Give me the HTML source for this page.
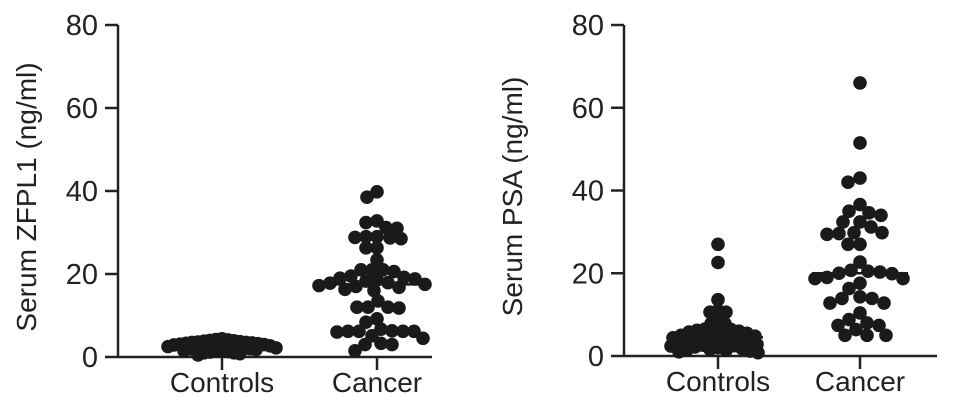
<!DOCTYPE html>
<html><head><meta charset="utf-8"><style>
html,body{margin:0;padding:0;background:#fff;}
svg{display:block;}
text{font-family:"Liberation Sans",Arial,sans-serif;fill:#222;}
</style></head><body>
<svg id="chart" width="969" height="415" viewBox="0 0 969 415" xmlns="http://www.w3.org/2000/svg"></svg>
<script>
const yTicks = [0, 20, 40, 60, 80];
const categories = ["Controls", "Cancer"];
const zfplControls = [0.5,0.8,1,1.2,1.4,1.5,1.6,1.8,2,2,2.1,2.2,2.3,2.4,2.5,2.5,2.6,2.7,2.8,2.9,3,3,3.1,3.2,3.3,3.4,3.5,3.5,3.6,3.7,3.8,4,4.1,4.2,4.4,1,1.3,2.2,2.7,3.9];
const zfplCancer = [39.8,38.5,32.8,32.4,31,31.2,28.8,29,28.7,28.5,29,26.3,26.3,23.4,21,21,20.6,21,19.5,19.2,18.8,18.3,17.9,17.5,17.2,18.6,19,17.8,16.3,16.8,16,17,12,12,11.8,12,13.5,9.2,6.3,6.2,6.2,6.2,6.7,6.2,8.4,5.1,6,3,3.3,3,1.5,4.5];
const zfplMedians = [2.4, 17.5];
const psaControls = [27,22.6,13.6,11,10.6,10.6,9,7.8,7.8,6.8,6.5,6.2,6,5.8,5.5,5.3,5,4.8,4.6,4.4,4.2,4,3.8,3.6,3.4,3.2,3,2.8,2.6,2.4,2.2,2,1.8,1.6,1.4,1.2,1,1.5,2.5,3.5,4.5,5.5,6.4,0.8];
const psaCancer = [66,51.5,42,43,36.6,34,34.6,35,32.4,32.4,29.6,29.4,31.2,29.8,29.8,27,27,22.7,20.3,20.5,20.7,20,19.9,19,18.7,17.6,18.7,16.3,13.9,13.9,12.8,12.8,14.3,10.4,8,6.4,7.4,8.8,7.4,5,5,5];
const psaMedians = [4.5, 20];

const NS = "http://www.w3.org/2000/svg";
const svg = document.getElementById("chart");
function mk(tag, attrs, parent) {
  const el = document.createElementNS(NS, tag);
  for (const k in attrs) el.setAttribute(k, attrs[k]);
  (parent || svg).appendChild(el);
  return el;
}
function drawPanel(p) {
  const g = mk("g", {});
  
  
  const y = v => p.y0 - (v / 80) * (p.y0 - p.y80);
  const ax = mk("line", {x1:p.ax, y1:p.y80, x2:p.ax, y2:p.y0, stroke:"#222", "stroke-width":2.5}, g);
  
  
  yTicks.forEach(t => {
    mk("line", {x1:p.ax-13, y1:y(t), x2:p.ax, y2:y(t), stroke:"#222", "stroke-width":2.5}, g);
    const tx = mk("text", {x:p.ax-20, y:y(t)+10, "text-anchor":"end", "font-size":29}, g);
    tx.textContent = t;
    
    
  });
  const xa = mk("line", {x1:p.ax, y1:p.y0, x2:p.xEnd, y2:p.y0, stroke:"#222", "stroke-width":2.5}, g);
  
  
  const title = mk("text", {x:0, y:0, "text-anchor":"middle", "font-size":28, transform:`translate(${p.titleX},${(p.y0+p.y80)/2+6}) rotate(-90)`}, g);
  title.textContent = p.title;
  
  
  p.groups.forEach((vals, gi) => {
    const cx = p.cx[gi];
    mk("line", {x1:cx, y1:p.y0, x2:cx, y2:p.y0+13, stroke:"#222", "stroke-width":2.5}, g);
    const lab = mk("text", {x:cx, y:p.y0+35, "text-anchor":"middle", "font-size":28}, g);
    lab.textContent = categories[gi];
    
    
    const r = 6.8, minD = p.minD[gi];
    const sorted = vals.map(v => v).sort((a,b)=>b-a);
    const placed = [];
    sorted.forEach(v => {
      const py = y(v);
      let off = 0;
      for (let s = 0; s < 400; s++) {
        const cand = (s % 2 === 0 ? 1 : -1) * Math.ceil(s / 2);
        const ok = placed.every(q => Math.hypot(q.x - cand, (q.y - py) * p.yw[gi]) >= minD);
        if (ok) { off = cand; break; }
      }
      placed.push({x: off, y: py});
      const c = mk("circle", {cx: cx + off, cy: py, r: r, fill: "#1a1a1a"}, g);
      
      
    });
    const m = p.medians[gi];
    const ml = mk("line", {x1:cx-p.mw[gi], y1:y(m), x2:cx+p.mw[gi], y2:y(m), stroke:"#1a1a1a", "stroke-width":2.5}, g);
    
    
  });
}
drawPanel({name:"zfpl1-panel", ax:118, y0:357, y80:25, xEnd:432, titleX:36, title:"Serum ZFPL1 (ng/ml)",
  cx:[222,377], groups:[zfplControls, zfplCancer], medians:zfplMedians, minD:[6,11], yw:[1,1], mw:[40,48]});
drawPanel({name:"psa-panel", ax:624, y0:356, y80:25, xEnd:937, titleX:522, title:"Serum PSA (ng/ml)",
  cx:[718,860], groups:[psaControls, psaCancer], medians:psaMedians, minD:[8,12], yw:[1,1], mw:[45,48]});
</script>
</body></html>
